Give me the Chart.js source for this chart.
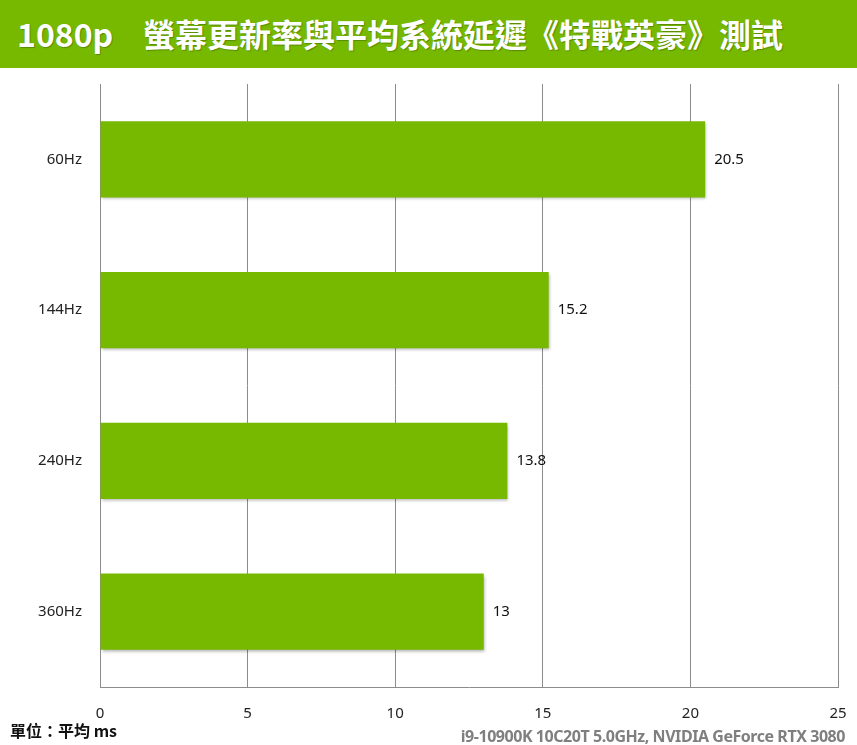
<!DOCTYPE html>
<html><head><meta charset="utf-8">
<script src="https://cdn.jsdelivr.net/npm/chart.js@4/dist/chart.umd.min.js"></script>
<style>
html,body{margin:0;padding:0;background:#fff;}
#wrap{position:relative;width:857px;height:745px;overflow:hidden;}
#band{position:absolute;left:0;top:0;width:857px;height:68px;background:#76b900;}
.t{position:absolute;top:13px;font-family:"Noto Sans CJK TC","Noto Sans",sans-serif;font-weight:700;font-size:32px;line-height:40px;color:#fff;text-shadow:1px 1px 1px rgba(0,0,0,0.25);white-space:nowrap;}
#c{position:absolute;left:0;top:0;}
#unit{position:absolute;left:10px;top:719px;font-family:"Noto Sans CJK TC",sans-serif;font-weight:700;font-size:16px;line-height:22px;color:#111;white-space:nowrap;}
#cpu{position:absolute;right:12px;top:725px;font-family:"Noto Sans","Noto Sans CJK TC",sans-serif;font-weight:700;font-size:16px;line-height:22px;letter-spacing:-0.45px;color:#7f7f7f;white-space:nowrap;}
</style></head>
<body><div id="wrap">
<div id="band"></div>
<div class="t" style="left:17px">1080p</div>
<div class="t" style="left:143px">螢幕更新率與平均系統延遲《特戰英豪》測試</div>
<canvas id="c" width="857" height="745"></canvas>
<div id="unit">單位：平均 ms</div>
<div id="cpu">i9-10900K 10C20T 5.0GHz, NVIDIA GeForce RTX 3080</div>
</div>
<script>
const categories = ["60Hz","144Hz","240Hz","360Hz"];
const latency = [20.5, 15.2, 13.8, 13];
const xTicks = [0,5,10,15,20,25];

const shadowPlugin = {
  id:'shadow',
  beforeDatasetsDraw(chart){const c=chart.ctx;c.save();c.shadowColor='rgba(0,0,0,0.3)';c.shadowOffsetX=1;c.shadowOffsetY=2;c.shadowBlur=3;},
  afterDatasetsDraw(chart){chart.ctx.restore();}
};
const labelPlugin = {
  id:'vals',
  afterDatasetsDraw(chart){
    const c=chart.ctx; const meta=chart.getDatasetMeta(0);
    c.save(); c.fillStyle='#111'; c.font='15px "Noto Sans", sans-serif'; c.textAlign='left'; c.textBaseline='middle';
    meta.data.forEach((b,i)=>{ c.fillText(String(latency[i]), b.x+9, b.y); });
    c.restore();
  }
};

new Chart(document.getElementById('c'),{
  type:'bar',
  data:{labels:categories,datasets:[{data:latency,backgroundColor:'#76b900',borderWidth:0,categoryPercentage:1,barPercentage:0.505}]},
  options:{
    indexAxis:'y',responsive:false,animation:false,
    layout:{padding:{top:84,right:19,bottom:18,left:0}},
    plugins:{legend:{display:false},tooltip:{enabled:false},title:{display:false}},
    scales:{
      x:{min:0,max:25,afterBuildTicks(s){s.ticks=xTicks.map(v=>({value:v}));},
         grid:{color:'#8c8c8c',lineWidth:1,drawTicks:false},border:{display:true,color:'#8c8c8c'},
         ticks:{padding:18,color:'#222',font:{family:'"Noto Sans", sans-serif',size:15}},
         afterFit(s){s.height=40;s.paddingLeft=0;s.paddingRight=0;}},
      y:{grid:{display:false,drawTicks:false},border:{display:true,color:'#8c8c8c'},
         ticks:{padding:18,color:'#222',font:{family:'"Noto Sans", sans-serif',size:15}},
         afterFit(s){s.width=100;s.paddingTop=0;s.paddingBottom=0;}}
    }
  },
  plugins:[shadowPlugin,labelPlugin]
});
</script>
</body></html>
